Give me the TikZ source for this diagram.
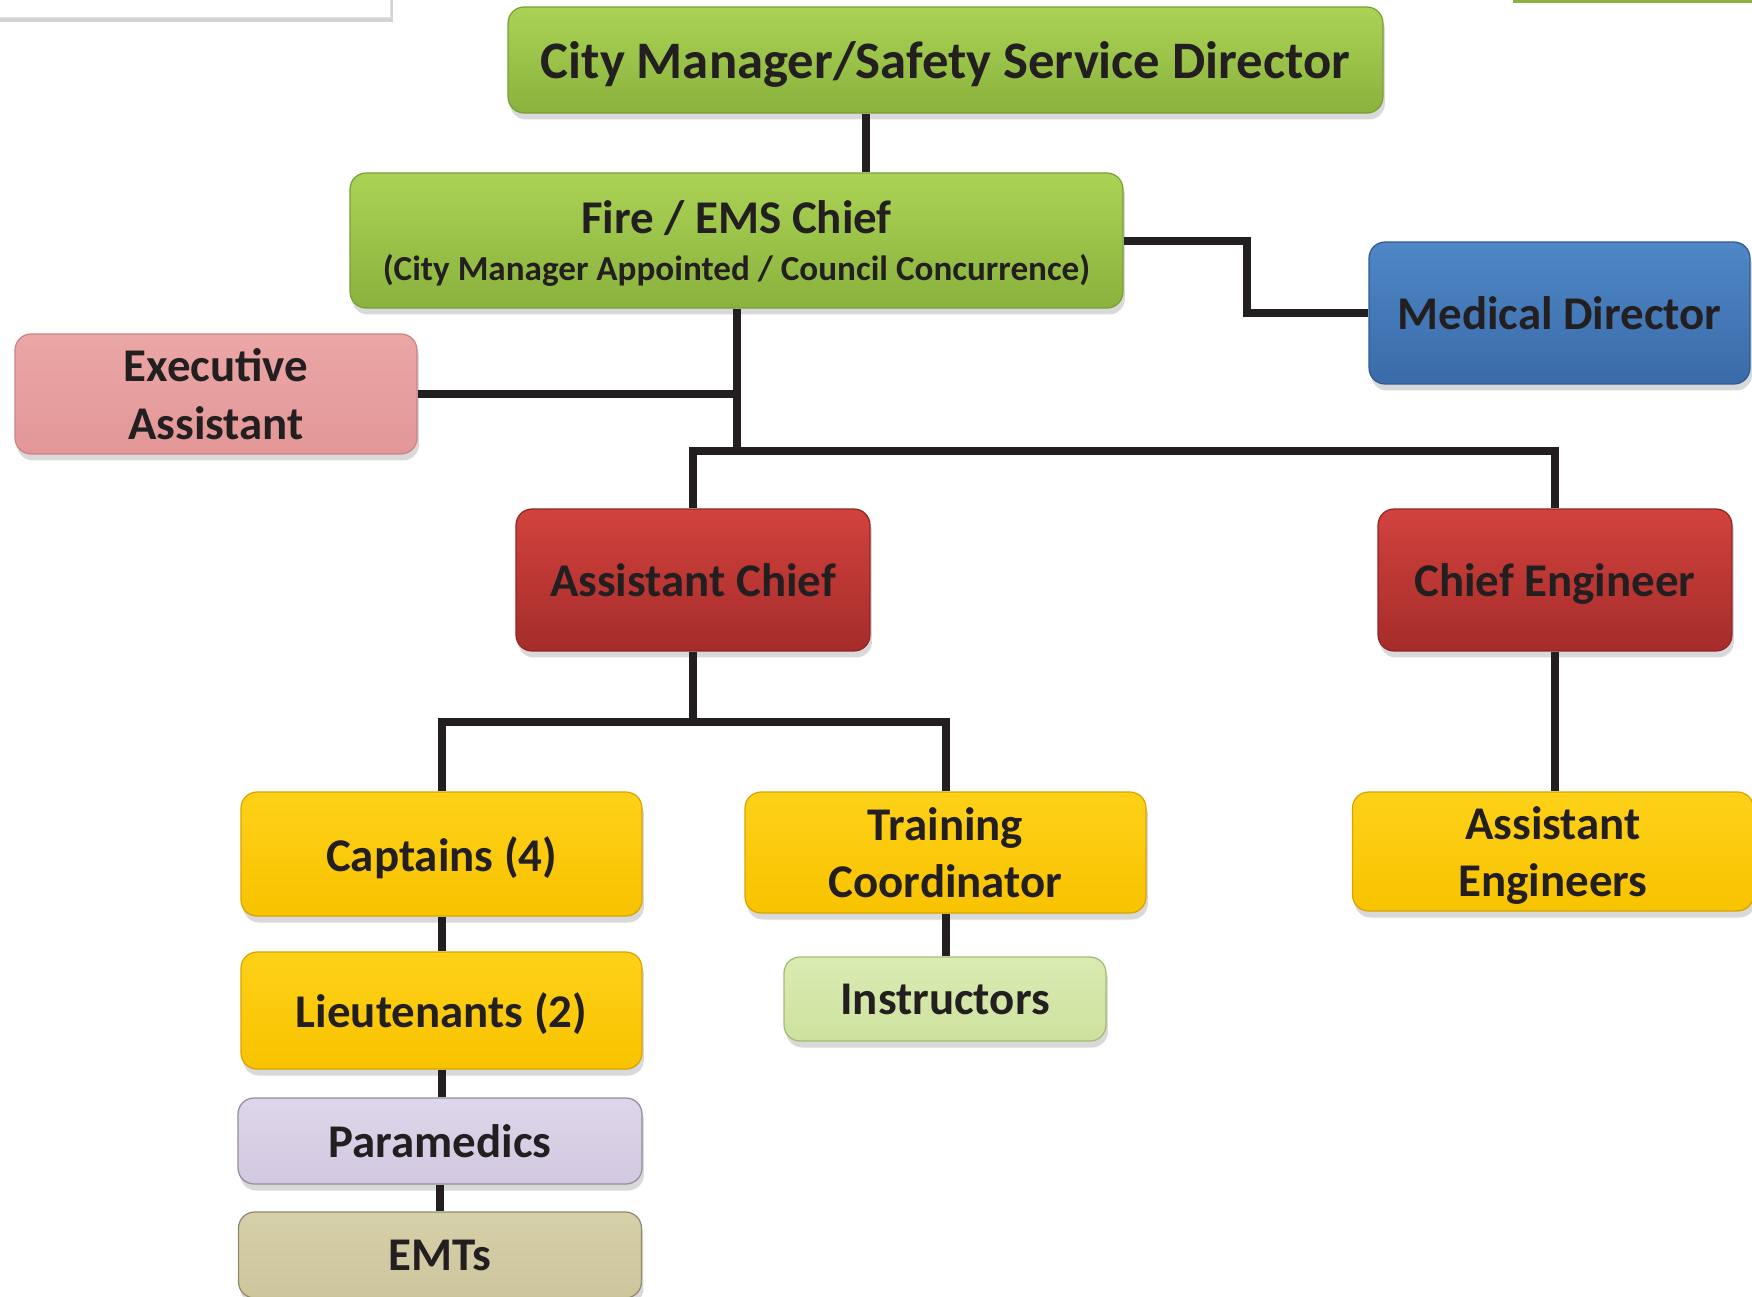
\documentclass[tikz,border=0pt]{standalone}
\usepackage{fontspec}
\setmainfont{Carlito}
\usetikzlibrary{shadows,positioning}

\definecolor{grnT}{HTML}{AAD355}
\definecolor{grnB}{HTML}{8AB23D}
\definecolor{grnD}{HTML}{7A9E36}
\definecolor{bluT}{HTML}{4F87C7}
\definecolor{bluB}{HTML}{3A6BA8}
\definecolor{bluD}{HTML}{2F5A90}
\definecolor{pnkT}{HTML}{EBA6A6}
\definecolor{pnkB}{HTML}{E39797}
\definecolor{pnkD}{HTML}{C98585}
\definecolor{redT}{HTML}{D2423D}
\definecolor{redB}{HTML}{A52C2A}
\definecolor{redD}{HTML}{912523}
\definecolor{ylwT}{HTML}{FED118}
\definecolor{ylwB}{HTML}{F8C300}
\definecolor{ylwD}{HTML}{D7A400}
\definecolor{lgrnT}{HTML}{DAEBB3}
\definecolor{lgrnB}{HTML}{CDE29E}
\definecolor{lavT}{HTML}{DED6EA}
\definecolor{lavB}{HTML}{D2C8E0}
\definecolor{tanT}{HTML}{D6D0AA}
\definecolor{tanB}{HTML}{CCC59C}
\definecolor{ink}{HTML}{231F20}

\begin{document}
\begin{tikzpicture}[x=0.02cm,y=-0.02cm,
   box/.style={rectangle,rounded corners=3.2mm,line width=0.7pt,align=center,
     inner sep=0pt,text=ink,font=\bfseries\fontsize{26.7}{32.5}\selectfont,text depth=-0.06em,
     drop shadow={shadow xshift=0.4mm,shadow yshift=-1.3mm,opacity=0.3}},
   gbox/.style={box,top color=grnT,bottom color=grnB,draw=grnD},
   bbox/.style={box,top color=bluT,bottom color=bluB,draw=bluD},
   pbox/.style={box,top color=pnkT,bottom color=pnkB,draw=pnkD},
   rbox/.style={box,top color=redT,bottom color=redB,draw=redD},
   ybox/.style={box,top color=ylwT,bottom color=ylwB,draw=ylwD},
   lgbox/.style={box,top color=lgrnT,bottom color=lgrnB,draw=grnD!70},
   lvbox/.style={box,top color=lavT,bottom color=lavB,draw=lavB!70!black},
   tnbox/.style={box,top color=tanT,bottom color=tanB,draw=tanB!70!black},
   conn/.style={line width=1.6mm,draw=ink}]
  \useasboundingbox (0,0) rectangle (1752,1296);
  % cut-off shapes at the top edge
  \fill[white,draw=black!12,drop shadow={shadow xshift=0.6mm,shadow yshift=-1mm,opacity=0.35}]
    (-20,-30) rectangle (390,17);
  \fill[grnB] (1513,-20) rectangle (1770,3);
  % boxes
  \node[gbox,minimum width=17.5cm,minimum height=2.12cm] (mgr) at (945.5,60)
    {\fontsize{30}{34}\selectfont City Manager/Safety Service Director};
  \node[gbox,minimum width=15.46cm,minimum height=2.7cm] (chief) at (736.5,240.5)
    {Fire / EMS Chief\\[-6pt]{\fontsize{20}{24}\selectfont(City Manager Appointed / Council Concurrence)}};
  \node[bbox,minimum width=7.62cm,minimum height=2.84cm] (med) at (1559.5,313) {Medical Director};
  \node[pbox,minimum width=8.04cm,minimum height=2.4cm] (exec) at (216,394) {Executive\\Assistant};
  \node[rbox,minimum width=7.08cm,minimum height=2.84cm] (asst) at (693,580) {Assistant Chief};
  \node[rbox,minimum width=7.08cm,minimum height=2.84cm] (ceng) at (1555,580) {Chief Engineer};
  \node[ybox,minimum width=8.02cm,minimum height=2.48cm] (capt) at (441.5,854) {Captains (4)};
  \node[ybox,minimum width=8.02cm,minimum height=2.42cm] (train) at (945.5,852.5) {Training\\Coordinator};
  \node[ybox,minimum width=8.02cm,minimum height=2.38cm] (aeng) at (1553,851.5) {Assistant\\Engineers};
  \node[ybox,minimum width=8.02cm,minimum height=2.34cm] (lieut) at (441.5,1010.5) {Lieutenants (2)};
  \node[lgbox,minimum width=6.44cm,minimum height=1.68cm] (instr) at (945,999) {Instructors};
  \node[lvbox,minimum width=8.08cm,minimum height=1.72cm] (para) at (440,1141) {Paramedics};
  \node[tnbox,minimum width=8.06cm,minimum height=1.72cm] (emt) at (440,1255) {EMTs};
  % junctions
  \coordinate (jTop) at (866,0);
  \coordinate (jMed) at (1247,0);
  \coordinate (bar1) at (0,451);
  \coordinate (bar2) at (0,722);
  % connectors
  \draw[conn] (mgr.south -| jTop) -- (chief.north -| jTop);
  \draw[conn] (chief.east) -- (chief.east -| jMed) |- (med.west);
  \draw[conn] (chief.south) -- (chief.south |- bar1);
  \draw[conn] (exec.east) -- (exec.east -| chief.south);
  \draw[conn] (asst.north) -- (asst.north |- bar1) -- (ceng.north |- bar1) -- (ceng.north);
  \draw[conn] (asst.south) -- (asst.south |- bar2);
  \draw[conn] (capt.north) -- (capt.north |- bar2) -- (train.north |- bar2) -- (train.north);
  \draw[conn] (capt.south) -- (lieut.north);
  \draw[conn] (lieut.south) -- (lieut.south |- para.north);
  \draw[conn] (para.south) -- (emt.north);
  \draw[conn] (train.south) -- (train.south |- instr.north);
  \draw[conn] (ceng.south) -- (ceng.south |- aeng.north);
\end{tikzpicture}
\end{document}
